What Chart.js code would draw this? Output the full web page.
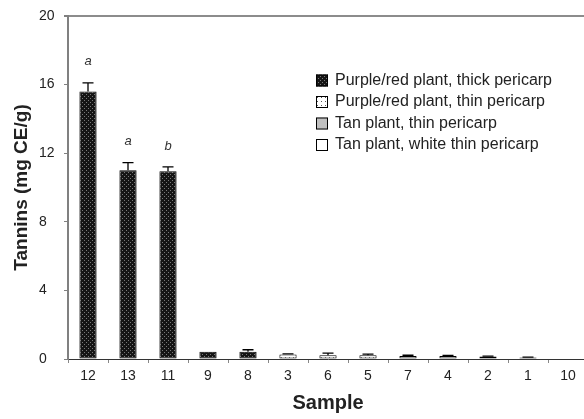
<!DOCTYPE html>
<html>
<head>
<meta charset="utf-8">
<script src="https://cdn.jsdelivr.net/npm/chart.js@4.4.0/dist/chart.umd.min.js"></script>
<style>
  html, body { margin: 0; padding: 0; overflow: hidden; background: #fff; }
  canvas { display: block; }
</style>
</head>
<body>
<canvas id="chart" width="590" height="419"></canvas>
<script>
// ─── Data ─────────────────────────────────────────────────────────────────────

const samples = ['12', '13', '11', '9', '8', '3', '6', '5', '7', '4', '2', '1', '10'];
const tannins = [15.6, 11.0, 10.95, 0.43, 0.42, 0.26, 0.22, 0.22, 0.18, 0.17, 0.14, 0.09, 0];
const errors = [0.5, 0.45, 0.25, 0, 0.12, 0.04, 0.12, 0.06, 0.04, 0.04, 0.03, 0.02, 0];
const groupOf = [0, 0, 0, 0, 0, 1, 1, 1, 2, 2, 2, 3, 3];
const letters = ['a', 'a', 'b', '', '', '', '', '', '', '', '', '', ''];
const groupLabels = [
  'Purple/red plant, thick pericarp',
  'Purple/red plant, thin pericarp',
  'Tan plant, thin pericarp',
  'Tan plant, white thin pericarp',
];
const yTicks = [0, 4, 8, 12, 16, 20];

const FONT = "'Liberation Sans', Arial, Helvetica, sans-serif";
Chart.defaults.font.family = FONT;

// ─── Fill patterns ────────────────────────────────────────────────────────────

const canvas = document.getElementById('chart');
const mainCtx = canvas.getContext('2d');

function makePattern(bg, fg, dots) {
  const c = document.createElement('canvas');
  c.width = 4; c.height = 4;
  const g = c.getContext('2d');
  g.fillStyle = bg;
  g.fillRect(0, 0, 4, 4);
  g.fillStyle = fg;
  dots.forEach(([x, y]) => g.fillRect(x, y, 1, 1));
  return mainCtx.createPattern(c, 'repeat');
}

const fills = [
  makePattern('#151515', '#7a7a7a', [[0, 0], [2, 2]]),
  makePattern('#ffffff', '#555555', [[1, 1]]),
  '#c0c0c0',
  '#ffffff',
];

// ─── Plugins ──────────────────────────────────────────────────────────────────

// error bars + significance letters, positioned through the scales
const errorBars = {
  id: 'errorBars',
  afterDatasetsDraw(chart) {
    const { ctx, scales: { x, y } } = chart;
    ctx.save();
    ctx.strokeStyle = '#000';
    ctx.lineWidth = 1.3;
    tannins.forEach((v, i) => {
      const px = x.getPixelForValue(i);
      const top = y.getPixelForValue(v + errors[i]);
      if (errors[i] > 0) {
        ctx.beginPath();
        ctx.moveTo(px, y.getPixelForValue(v));
        ctx.lineTo(px, top);
        ctx.moveTo(px - 5.5, top);
        ctx.lineTo(px + 5.5, top);
        ctx.stroke();
      }
      if (letters[i]) {
        ctx.fillStyle = '#333';
        ctx.font = 'italic 13px ' + FONT;
        ctx.textAlign = 'center';
        ctx.textBaseline = 'middle';
        ctx.fillText(letters[i], px, top - 21);
      }
    });
    ctx.restore();
  },
};

// legend drawn inside the plot area
const insideLegend = {
  id: 'insideLegend',
  afterDraw(chart) {
    const ctx = chart.ctx;
    ctx.save();
    ctx.font = '16px ' + FONT;
    ctx.textBaseline = 'middle';
    chart.data.datasets.forEach((ds, i) => {
      const y = 80.5 + i * 21.5;
      ctx.fillStyle = ds.backgroundColor;
      ctx.fillRect(316, y - 6, 12, 12);
      ctx.strokeStyle = '#000';
      ctx.lineWidth = 1;
      ctx.strokeRect(316.5, y - 5.5, 11, 11);
      ctx.fillStyle = '#222';
      ctx.fillText(ds.label, 335, y);
    });
    ctx.restore();
  },
};

// ─── Chart ────────────────────────────────────────────────────────────────────

const datasets = groupLabels.map((label, g) => ({
  label,
  data: tannins.map((v, i) => (groupOf[i] === g ? v : null)),
  backgroundColor: fills[g],
  borderColor: '#000',
  borderWidth: 1,
  borderSkipped: false,
  grouped: false,
  barPercentage: 0.43,
  categoryPercentage: 1.0,
}));

new Chart(mainCtx, {
  type: 'bar',
  data: { labels: samples, datasets },
  options: {
    responsive: false,
    animation: false,
    events: [],
    layout: { padding: { left: 0, right: 2, top: 16, bottom: 0 } },
    plugins: {
      legend: { display: false },
      tooltip: { enabled: false },
      title: {
        display: true,
        position: 'left',
        fullSize: false,
        text: 'Tannins (mg CE/g)',
        color: '#222',
        font: { size: 19, weight: 'bold', family: FONT, lineHeight: 1.2 },
        padding: { top: 10.5, bottom: 5.7 },
      },
    },
    scales: {
      x: {
        offset: true,
        ticks: { color: '#222', font: { size: 14 }, padding: 5, maxRotation: 0, autoSkip: false },
        grid: { offset: true, drawOnChartArea: false, tickLength: 4, tickColor: '#888' },
        border: { color: '#333', width: 1 },
        title: {
          display: true,
          text: 'Sample',
          color: '#222',
          font: { size: 20, weight: 'bold', lineHeight: 1.2 },
          padding: { top: 0, bottom: 4 },
        },
        afterFit(scale) { scale.height = 60; },
      },
      y: {
        min: yTicks[0],
        max: yTicks[yTicks.length - 1],
        afterBuildTicks(scale) { scale.ticks = yTicks.map(v => ({ value: v })); },
        ticks: { color: '#222', font: { size: 14 }, crossAlign: 'far', padding: 4 },
        grid: {
          color: c => (c.tick && c.tick.value === 20 ? '#8c8c8c' : 'rgba(0,0,0,0)'),
          lineWidth: c => (c.tick && c.tick.value === 20 ? 2 : 1),
          tickColor: '#808080',
          tickLength: 4,
        },
        border: { color: '#808080', width: 2 },
        afterFit(scale) { scale.width = 29; },
      },
    },
  },
  plugins: [errorBars, insideLegend],
});
</script>
</body>
</html>
